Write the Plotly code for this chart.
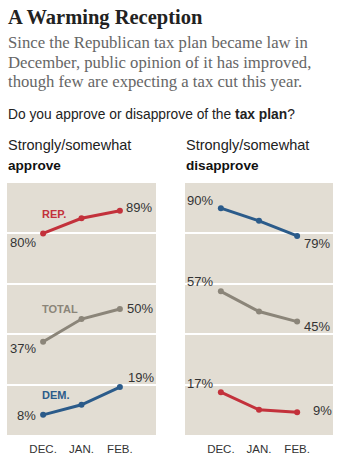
import plotly.graph_objects as go

W, H = 341, 469

months = ["DEC.", "JAN.", "FEB."]
approve_rep = [80, 86, 89]
approve_total = [37, 46, 50]
approve_dem = [8, 12, 19]
disapprove_dem = [90, 85, 79]
disapprove_total = [57, 49, 45]
disapprove_rep = [17, 10, 9]

RED = "#c3313b"
GRAY = "#8b8579"
BLUE = "#2b5b8a"
BG = "#e2ddd3"
TXT = "#333333"

def px(x):
    return x / W

def py(y):
    return 1 - y / H

fig = go.Figure()

xi = [0, 1, 2]

def add_series(vals, color, axis):
    fig.add_trace(go.Scatter(
        x=xi, y=vals, mode="lines+markers",
        line=dict(color=color, width=3, shape="linear"),
        marker=dict(color=color, size=6),
        xaxis="x" if axis == 1 else "x2",
        yaxis="y" if axis == 1 else "y2",
        hoverinfo="skip", showlegend=False,
    ))

add_series(approve_rep, RED, 1)
add_series(approve_total, GRAY, 1)
add_series(approve_dem, BLUE, 1)
add_series(disapprove_dem, BLUE, 2)
add_series(disapprove_total, GRAY, 2)
add_series(disapprove_rep, RED, 2)

ydom = [py(435), py(183)]
axis_common = dict(range=[0, 100], showgrid=True, gridcolor="white", gridwidth=1.5,
                   tickvals=[20, 40, 60, 80], showticklabels=False, zeroline=False,
                   showline=False, ticks="", fixedrange=True)
xaxis_common = dict(range=[-0.94, 2.94], tickvals=xi, ticktext=months, showgrid=False,
                    zeroline=False, showline=False, ticks="", ticklen=0,
                    ticklabelstandoff=5,
                    tickfont=dict(family="Liberation Sans", size=11.5, color=TXT),
                    fixedrange=True)

fig.update_layout(
    width=W, height=H,
    margin=dict(l=0, r=0, t=0, b=0),
    paper_bgcolor="white",
    plot_bgcolor=BG,
    xaxis=dict(domain=[px(7), px(156)], anchor="y", **xaxis_common),
    yaxis=dict(domain=ydom, anchor="x", **axis_common),
    xaxis2=dict(domain=[px(185), px(333)], anchor="y2", **xaxis_common),
    yaxis2=dict(domain=ydom, anchor="x2", **axis_common),
)

anns = []

def txt(x, y, text, size, color, family="Liberation Sans", xanchor="left", yanchor="middle"):
    anns.append(dict(x=px(x), y=py(y), xref="paper", yref="paper", text=text,
                     showarrow=False, xanchor=xanchor, yanchor=yanchor,
                     font=dict(family=family, size=size, color=color)))

NARROW = "Liberation Sans Narrow, Liberation Sans"

# Titles
txt(6, 18, "<b>A Warming Reception</b>", 20.5, "#222222", family="Liberation Serif")
sub_lines = ["Since the Republican tax plan became law in",
             "December, public opinion of it has improved,",
             "though few are expecting a tax cut this year."]
for i, line in enumerate(sub_lines):
    txt(6, 43 + i * 19, line, 16.7, "#666666", family="Liberation Serif")
txt(6, 114, "Do you approve or disapprove of the <b>tax plan</b>?", 13.8, "#222222")
txt(6, 145, "Strongly/somewhat", 14.5, "#222222", family=NARROW)
txt(6, 165, "<b>approve</b>", 13.6, "#111111")
txt(184, 145, "Strongly/somewhat", 14.5, "#222222", family=NARROW)
txt(184, 165, "<b>disapprove</b>", 13.6, "#111111")

# Series labels
txt(40, 214, "<b>REP.</b>", 11, RED)
txt(40, 309, "<b>TOTAL</b>", 11, GRAY)
txt(40, 395, "<b>DEM.</b>", 11, BLUE)

def vlab(vals, axis, idx, xanchor, xshift, yshift):
    anns.append(dict(x=xi[idx], y=vals[idx],
                     xref="x" if axis == 1 else "x2", yref="y" if axis == 1 else "y2",
                     text=f"{vals[idx]}%", showarrow=False, xanchor=xanchor, yanchor="middle",
                     xshift=xshift, yshift=yshift,
                     font=dict(family="Liberation Sans", size=13, color=TXT)))

vlab(approve_rep, 1, 0, "right", -5, -9)
vlab(approve_rep, 1, 2, "left", 4, 3)
vlab(approve_total, 1, 0, "right", -5, -7)
vlab(approve_total, 1, 2, "left", 5, 1)
vlab(approve_dem, 1, 0, "right", -5, -1)
vlab(approve_dem, 1, 2, "left", 6, 10)

vlab(disapprove_dem, 2, 0, "right", -6, 8)
vlab(disapprove_dem, 2, 2, "left", 5, -8)
vlab(disapprove_total, 2, 0, "right", -6, 10)
vlab(disapprove_total, 2, 2, "left", 5, -5)
vlab(disapprove_rep, 2, 0, "right", -6, 9)
vlab(disapprove_rep, 2, 2, "left", 14, 2)

fig.update_layout(annotations=anns)

fig.write_html("out.html")
